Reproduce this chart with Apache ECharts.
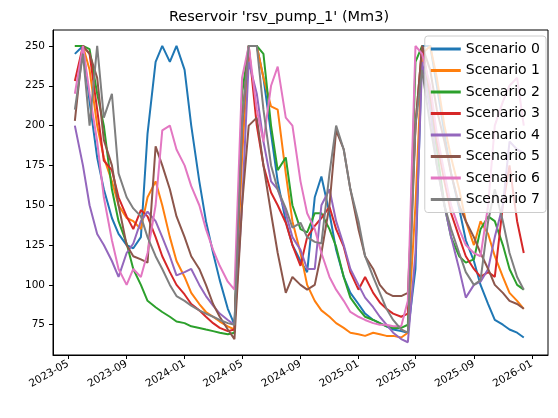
<!DOCTYPE html>
<html><head><meta charset="utf-8">
<script src="https://cdn.jsdelivr.net/npm/echarts@6/dist/echarts.min.js"></script>
<style>html,body{margin:0;padding:0;background:#fff}#c{width:558px;height:418px}</style>
</head><body><div id="c"></div>
<script>
const dates = ["2023-05-15","2023-06-01","2023-06-15","2023-07-01","2023-07-15","2023-08-01","2023-08-15","2023-09-01","2023-09-15","2023-10-01","2023-10-15","2023-11-01","2023-11-15","2023-12-01","2023-12-15",
"2024-01-01","2024-01-15","2024-02-01","2024-02-15","2024-03-01","2024-03-15","2024-04-01","2024-04-15","2024-05-01","2024-05-15","2024-06-01","2024-06-15","2024-07-01","2024-07-15","2024-08-01","2024-08-15","2024-09-01","2024-09-15","2024-10-01","2024-10-15","2024-11-01","2024-11-15","2024-12-01","2024-12-15",
"2025-01-01","2025-01-15","2025-02-01","2025-02-15","2025-03-01","2025-03-15","2025-04-01","2025-04-15","2025-05-01","2025-05-15","2025-06-01","2025-06-15","2025-07-01","2025-07-15","2025-08-01","2025-08-15","2025-09-01","2025-09-15","2025-10-01","2025-10-15","2025-11-01","2025-11-15","2025-12-01","2025-12-15"];
const s0 = [245,250,215,180,160,142,132,125,123,130,195,240,250,240,250,235,200,165,140,120,103,85,75,200,250,250,230,195,165,140,125,115,108,155,168,145,122,105,95,88,82,78,76,74,72,71,70,110,250,250,225,195,170,148,128,115,100,88,78,75,72,70,67];
const s1 = [250,250,235,200,180,165,150,142,140,135,155,165,150,130,115,105,95,88,83,80,77,74,72,180,250,250,230,212,210,170,140,120,100,90,84,80,76,73,70,69,68,70,69,68,68,67,70,150,245,250,230,200,180,160,140,125,140,132,118,105,95,90,85];
const s2 = [250,250,248,220,200,160,140,126,110,100,90,86,83,80,77,76,74,73,72,71,70,69,70,220,250,250,245,200,172,180,150,135,133,145,145,135,124,105,92,85,80,78,76,74,73,73,75,240,250,215,185,150,130,118,114,116,135,143,140,125,110,100,97];
const s3 = [228,250,245,210,178,172,155,143,135,147,143,130,118,108,100,94,88,84,80,76,73,71,72,200,250,200,175,158,150,139,125,112,130,137,142,149,135,124,108,97,105,95,89,85,82,80,82,200,250,220,190,165,145,130,118,110,105,108,105,150,175,140,120];
const s4 = [200,175,150,132,125,115,105,120,126,140,146,140,130,118,106,108,110,100,93,87,82,78,75,150,240,220,190,165,160,145,130,122,110,110,150,160,140,125,110,100,92,86,80,75,70,66,64,120,240,210,175,150,130,110,92,100,102,110,130,150,190,185,183];
const s5 = [203,250,245,230,191,175,150,125,118,116,114,187,175,160,143,130,118,110,100,88,80,72,66,150,200,205,175,145,120,95,105,100,97,100,120,150,197,185,160,135,118,110,100,95,93,93,95,200,250,235,210,190,170,150,140,130,120,110,100,95,90,88,85];
const s6 = [220,250,220,190,155,128,110,100,110,105,120,150,197,200,185,175,162,150,135,122,112,102,97,230,250,210,190,225,237,205,200,165,145,135,120,105,97,90,83,80,78,76,75,75,74,74,90,250,245,225,195,170,150,135,125,120,118,150,200,215,225,230,200];
const s7 = [210,245,200,250,205,220,170,155,148,143,130,118,110,100,93,90,87,84,82,80,78,76,75,200,250,250,210,175,160,148,136,139,130,127,126,170,200,185,160,140,118,105,95,85,78,72,70,200,235,200,175,150,135,120,108,100,103,140,160,140,120,105,97];
const names = ["Scenario 0","Scenario 1","Scenario 2","Scenario 3","Scenario 4","Scenario 5","Scenario 6","Scenario 7"];
const colors = ["#1f77b4","#ff7f0e","#2ca02c","#d62728","#9467bd","#8c564b","#e377c2","#7f7f7f"];
const yTicks = [75,100,125,150,175,200,225,250];
const xTicks = ["2023-05-01","2023-09-01","2024-01-01","2024-05-01","2024-09-01","2025-01-01","2025-05-01","2025-09-01","2026-01-01"];

const all = [s0,s1,s2,s3,s4,s5,s6,s7];
const ts = d => Date.parse(d + "T00:00:00Z");
const xTickVals = xTicks.map(ts);
const chart = echarts.init(document.getElementById('c'), null, {renderer:'canvas'});
chart.setOption({
  animation:false,
  color: colors,
  title:{text:"Reservoir 'rsv_pump_1' (Mm3)", left:'center', top:5, textStyle:{fontSize:14.5, fontWeight:'normal', color:'#000', fontFamily:'DejaVu Sans'}},
  grid:{left:53, right:10, top:30, bottom:63, show:true, borderColor:'#000', borderWidth:1},
  legend:{orient:'vertical', right:12, top:36, itemWidth:30, itemHeight:3, itemGap:7.5, icon:'rect',
    data:names, backgroundColor:'rgba(255,255,255,0.8)', borderColor:'#cccccc', borderWidth:1, borderRadius:3, padding:[6,6,6,6],
    textStyle:{fontSize:14, color:'#000', fontFamily:'DejaVu Sans'}},
  xAxis:{type:'value', min:ts("2023-03-30"), max:ts("2026-02-04"),
    axisLine:{onZero:false, lineStyle:{color:'#000'}}, splitLine:{show:false},
    axisTick:{customValues:xTickVals, length:4, lineStyle:{color:'#000'}},
    axisLabel:{customValues:xTickVals, rotate:30, color:'#000', fontSize:10.5, fontFamily:'DejaVu Sans',
      formatter:v=>{const d=new Date(v);return d.getUTCFullYear()+'-'+String(d.getUTCMonth()+1).padStart(2,'0');}}},
  yAxis:{type:'value', min:56, max:260,
    axisLine:{show:true, lineStyle:{color:'#000'}}, splitLine:{show:false},
    axisTick:{show:true, customValues:yTicks, length:4, lineStyle:{color:'#000'}},
    axisLabel:{customValues:yTicks, color:'#000', fontSize:10.5, fontFamily:'DejaVu Sans'}},
  series: all.map((s,i)=>({name:names[i], type:'line', showSymbol:false, symbol:'none',
    lineStyle:{width:2}, data: dates.map((d,j)=>[ts(d), s[j]])}))
});
</script></body></html>
